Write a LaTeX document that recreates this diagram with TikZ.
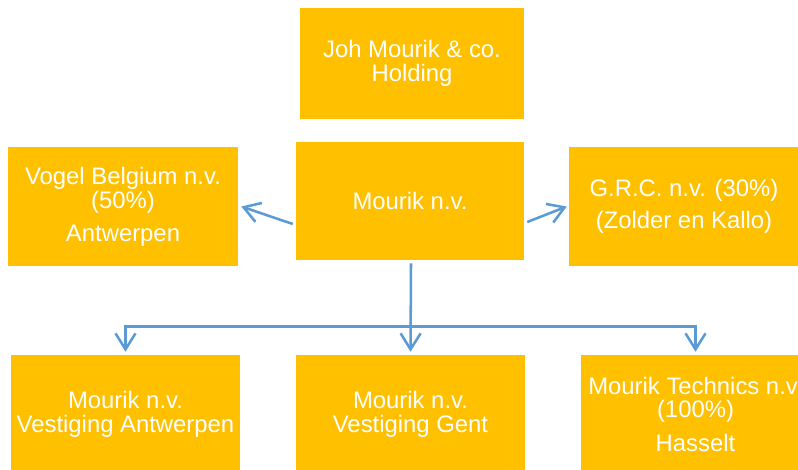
\documentclass[tikz,border=0pt]{standalone}
\usepackage{fontspec}
\setmainfont{Liberation Sans}
\usetikzlibrary{arrows.meta}
\definecolor{boxfill}{HTML}{FFC000}
\definecolor{linkblue}{HTML}{5B9BD5}
\begin{document}
\begin{tikzpicture}[x=0.75pt,y=-0.75pt,
  orgbox/.style={fill=boxfill, draw=none, text=white, align=center, inner sep=0pt,
    font=\fontsize{17.9}{17.9}\selectfont},
  link/.style={draw=linkblue, line width=1.9pt, -{Straight Barb[length=12pt,width=15pt]}}]
\useasboundingbox (0,0) rectangle (798,470);
\clip (0,0) rectangle (798,470);
\node[orgbox, minimum width=168pt, minimum height=83.25pt] (holding) at (412,63.5) {Joh Mourik \& co.\\Holding};
\node[orgbox, minimum width=171pt, minimum height=88.5pt] (mourik) at (410,201) {Mourik n.v.};
\node[orgbox, minimum width=172.5pt, minimum height=89.25pt] (vogel) at (123,206.5) {Vogel Belgium n.v.\\(50\%)\\[7pt]Antwerpen};
\node[orgbox, minimum width=172.5pt, minimum height=89.25pt] (grc) at (684,206.5) {G.R.C. n.v. (30\%)\\[6pt](Zolder en Kallo)};
\node[orgbox, minimum width=171.75pt, minimum height=88.5pt] (bleft) at (125.5,414) {Mourik n.v.\\Vestiging Antwerpen};
\node[orgbox, minimum width=171.75pt, minimum height=88.5pt] (bmid) at (410.5,414) {Mourik n.v.\\Vestiging Gent};
\node[orgbox, minimum width=171.75pt, minimum height=88.5pt] (bright) at (695.5,414) {Mourik Technics n.v.\\(100\%)\\[7pt]Hasselt};
\coordinate (bus) at ([shift={(0,66)}]mourik.south);
\draw[link] ([shift={(-3,23)}]mourik.west) -- ([shift={(3,0)}]vogel.east);
\draw[link] ([shift={(3,21)}]mourik.east) -- ([shift={(-2,0)}]grc.west);
\draw[link] ([shift={(1,3)}]mourik.south) -- ([shift={(0,-3)}]bmid.north);
\draw[link, {Straight Barb[length=12pt,width=15pt]}-{Straight Barb[length=12pt,width=15pt]}]
  ([shift={(0,-3)}]bleft.north) |- (bus) -| ([shift={(0,-3)}]bright.north);
\end{tikzpicture}
\end{document}
